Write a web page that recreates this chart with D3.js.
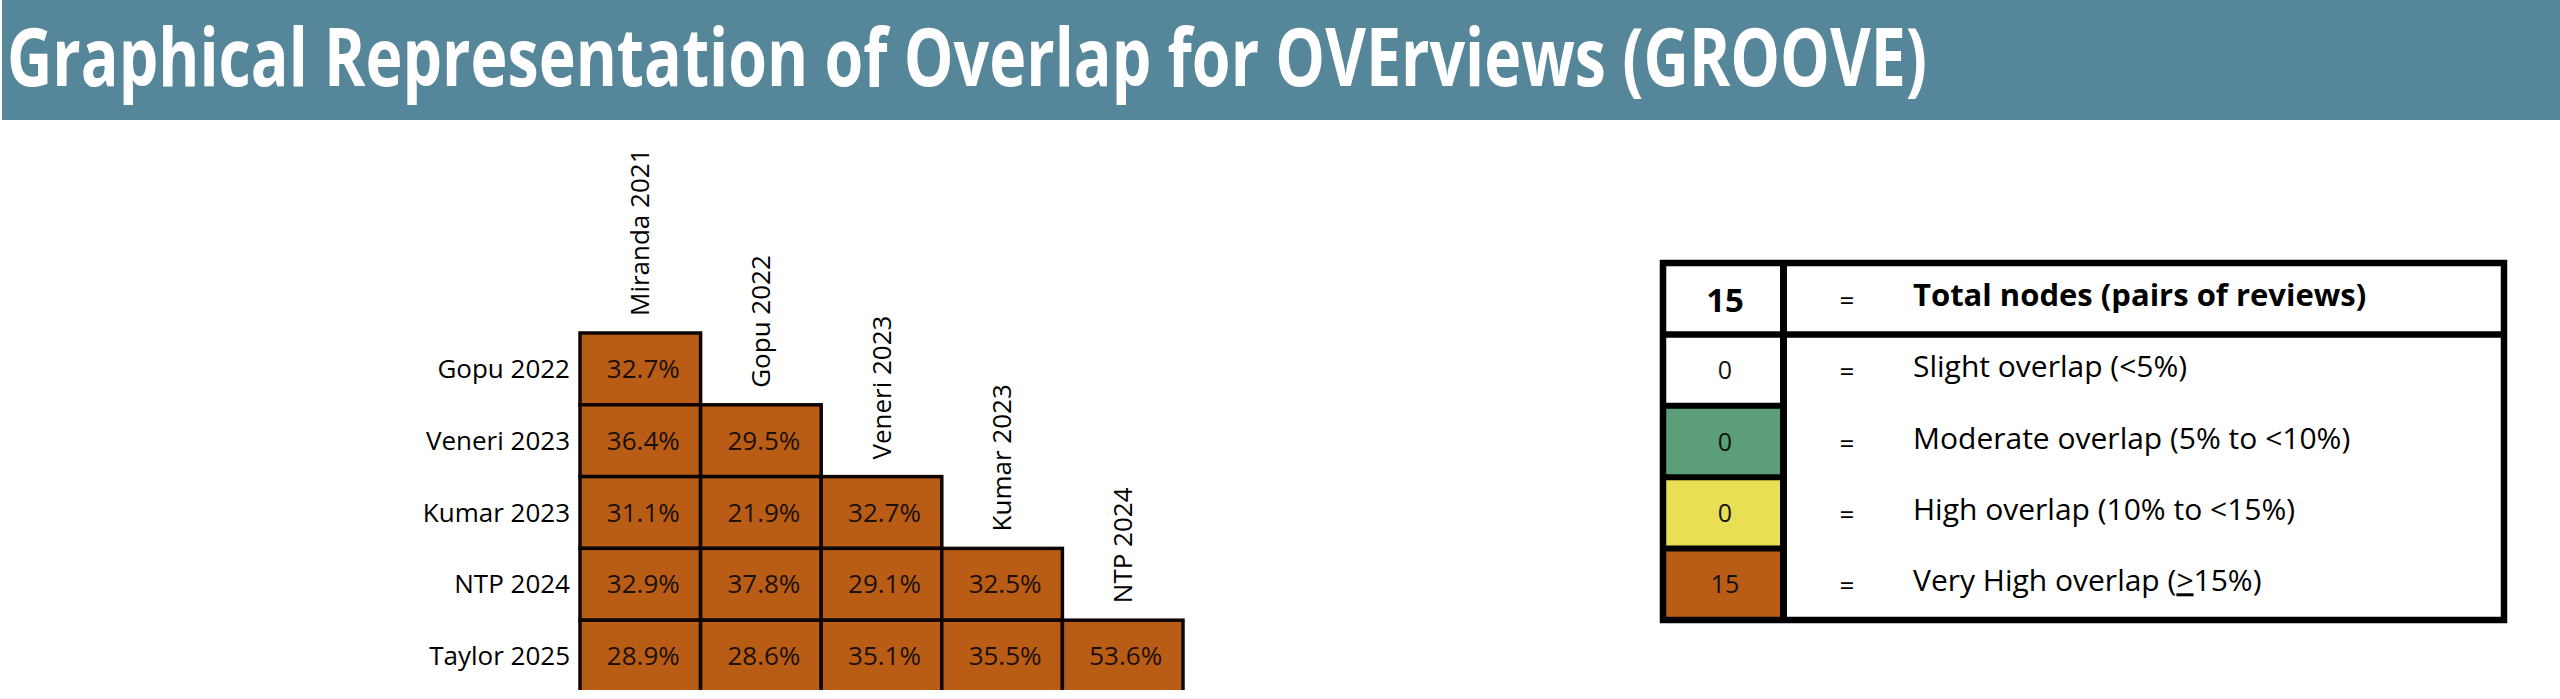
<!DOCTYPE html>
<html>
<head>
<meta charset="utf-8">
<script src="https://cdn.jsdelivr.net/npm/d3@7"></script>
<style>
  body { margin: 0; background: #ffffff; }
  text { font-family: "Open Sans", sans-serif; }
</style>
</head>
<body>
<script>
// reviews on each axis
var rowNames = ["Gopu 2022", "Veneri 2023", "Kumar 2023", "NTP 2024", "Taylor 2025"];
var colNames = ["Miranda 2021", "Gopu 2022", "Veneri 2023", "Kumar 2023", "NTP 2024"];

// overlap (%) for each row, lower triangle only
var overlap = [
  [32.7],
  [36.4, 29.5],
  [31.1, 21.9, 32.7],
  [32.9, 37.8, 29.1, 32.5],
  [28.9, 28.6, 35.1, 35.5, 53.6]
];

// legend classes
var levelCuts = [5, 10, 15];
var levelLabels = ["Slight overlap (<5%)", "Moderate overlap (5% to <10%)", "High overlap (10% to <15%)", "Very High overlap ("];
var totalLabel = "Total nodes (pairs of reviews)";

var W = 2560, H = 699;

var color = d3.scaleThreshold()
  .domain(levelCuts)
  .range(["#ffffff", "#5b9e79", "#e8df55", "#b95d16"]);

var svg = d3.select("body")
  .append("svg")
  .attr("width", W)
  .attr("height", H);

// title band
svg.append("rect")
  .attr("x", 2).attr("y", 0)
  .attr("width", W - 2).attr("height", 120)
  .attr("fill", "#56869a");

svg.append("text")
  .attr("x", 7).attr("y", 86)
  .attr("fill", "#ffffff")
  .attr("font-size", 80)
  .attr("font-weight", 700)
  .attr("textLength", 1920)
  .attr("lengthAdjust", "spacingAndGlyphs")
  .text("Graphical Representation of Overlap for OVErviews (GROOVE)");

// ---- matrix ----
var x = d3.scaleBand().domain(colNames).range([580, 1183]);
var y = d3.scaleBand().domain(rowNames).range([333, 692]);

var cells = [];
overlap.forEach(function(row, i) {
  row.forEach(function(v, j) {
    cells.push({ row: rowNames[i], col: colNames[j], value: v });
  });
});

svg.append("clipPath").attr("id", "gridClip")
  .append("rect").attr("x", 0).attr("y", 0).attr("width", W).attr("height", 690);

var grid = svg.append("g").attr("clip-path", "url(#gridClip)");

grid.selectAll("rect.cell")
  .data(cells)
  .enter()
  .append("rect")
  .attr("class", "cell")
  .attr("x", function(d) { return x(d.col); })
  .attr("y", function(d) { return y(d.row); })
  .attr("width", x.bandwidth())
  .attr("height", y.bandwidth())
  .attr("fill", function(d) { return color(d.value); })
  .attr("stroke", "#0d0604")
  .attr("stroke-width", 3.5);

grid.selectAll("text.val")
  .data(cells)
  .enter()
  .append("text")
  .attr("class", "val")
  .attr("x", function(d) { return x(d.col) + x.bandwidth() / 2 + 3; })
  .attr("y", function(d) { return y(d.row) + y.bandwidth() / 2 + 9; })
  .attr("text-anchor", "middle")
  .attr("font-size", 26)
  .attr("fill", "#1c1008")
  .text(function(d) { return d.value.toFixed(1) + "%"; });

// row labels
svg.selectAll("text.rowlab")
  .data(rowNames)
  .enter()
  .append("text")
  .attr("class", "rowlab")
  .attr("x", 570)
  .attr("y", function(d) { return y(d) + y.bandwidth() / 2 + 9; })
  .attr("text-anchor", "end")
  .attr("font-size", 26)
  .attr("fill", "#000")
  .text(function(d) { return d; });

// column labels, standing on top of each column's first cell
svg.selectAll("text.collab")
  .data(colNames)
  .enter()
  .append("text")
  .attr("class", "collab")
  .attr("transform", function(d, j) {
    var cx = x(d) + x.bandwidth() / 2 + 9;
    var cy = y(rowNames[j]) - 17;
    return "translate(" + cx + "," + cy + ") rotate(-90)";
  })
  .attr("font-size", 26)
  .attr("fill", "#000")
  .text(function(d) { return d; });

// ---- legend table ----
var counts = levelLabels.map(function() { return 0; });
cells.forEach(function(c) { counts[color.range().indexOf(color(c.value))] += 1; });

var legendRows = ["total"].concat(levelLabels);
var ly = d3.scaleBand().domain(d3.range(legendRows.length)).range([263, 620]);
var lx0 = 1663, lx1 = 1783, lx2 = 2504;

var leg = svg.append("g");

leg.selectAll("rect.swatch")
  .data(counts)
  .enter()
  .append("rect")
  .attr("class", "swatch")
  .attr("x", lx0)
  .attr("y", function(d, i) { return ly(i + 1); })
  .attr("width", lx1 - lx0)
  .attr("height", ly.bandwidth())
  .attr("fill", function(d, i) { return color.range()[i]; });

// dividers in first column
leg.selectAll("line.rdiv")
  .data(d3.range(2, legendRows.length))
  .enter()
  .append("line")
  .attr("x1", lx0).attr("x2", lx1)
  .attr("y1", function(i) { return ly(i); })
  .attr("y2", function(i) { return ly(i); })
  .attr("stroke", "#000").attr("stroke-width", 6);

leg.append("line")
  .attr("x1", lx0).attr("x2", lx2)
  .attr("y1", ly(1)).attr("y2", ly(1))
  .attr("stroke", "#000").attr("stroke-width", 6.5);

leg.append("line")
  .attr("x1", lx1 + 0.5).attr("x2", lx1 + 0.5)
  .attr("y1", 263).attr("y2", 620)
  .attr("stroke", "#000").attr("stroke-width", 7);

leg.append("rect")
  .attr("x", lx0).attr("y", 263)
  .attr("width", lx2 - lx0).attr("height", 357)
  .attr("fill", "none")
  .attr("stroke", "#000").attr("stroke-width", 6.5);

var numX = (lx0 + lx1) / 2 + 2;

// header row
leg.append("text")
  .attr("x", numX).attr("y", ly(0) + ly.bandwidth() / 2 + 13)
  .attr("text-anchor", "middle")
  .attr("font-size", 33).attr("font-weight", 700)
  .text(d3.sum(counts));

leg.append("text")
  .attr("x", 1913).attr("y", ly(0) + ly.bandwidth() / 2 + 7)
  .attr("font-size", 31).attr("font-weight", 700)
  .text(totalLabel);

leg.selectAll("text.eq")
  .data(legendRows)
  .enter()
  .append("text")
  .attr("class", "eq")
  .attr("x", 1847)
  .attr("y", function(d, i) { return ly(i) + ly.bandwidth() / 2 + 11; })
  .attr("text-anchor", "middle")
  .attr("font-size", 26)
  .text("=");

leg.selectAll("text.cnt")
  .data(counts)
  .enter()
  .append("text")
  .attr("class", "cnt")
  .attr("x", numX)
  .attr("y", function(d, i) { return ly(i + 1) + ly.bandwidth() / 2 + 9; })
  .attr("text-anchor", "middle")
  .attr("font-size", 25)
  .attr("fill", "#111")
  .text(function(d) { return d; });

var labs = leg.selectAll("text.lab")
  .data(levelLabels)
  .enter()
  .append("text")
  .attr("class", "lab")
  .attr("x", 1913)
  .attr("y", function(d, i) { return ly(i + 1) + ly.bandwidth() / 2 + 7; })
  .attr("font-size", 30)
  .text(function(d) { return d; });

// last class: underlined ">" then the rest
labs.filter(function(d, i) { return i === levelLabels.length - 1; })
  .each(function() {
    var t = d3.select(this);
    t.append("tspan").attr("text-decoration", "underline").text(">");
    t.append("tspan").text("15%)");
  });
</script>
</body>
</html>
